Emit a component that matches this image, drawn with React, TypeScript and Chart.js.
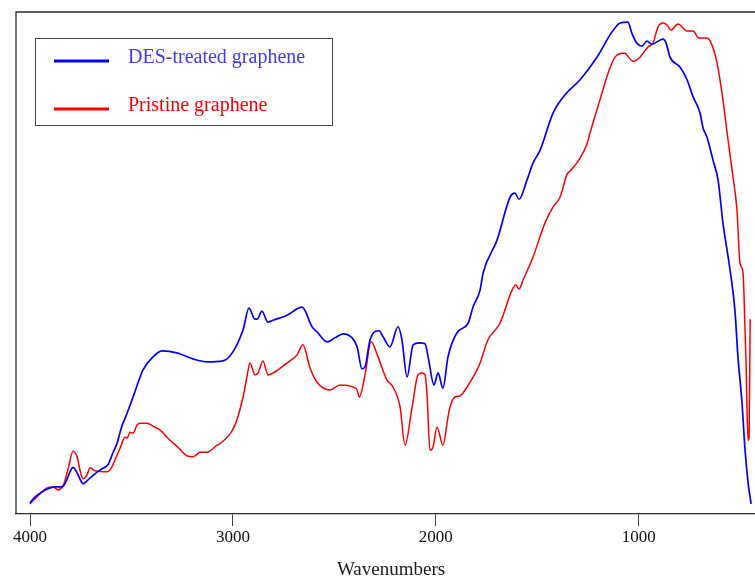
import { useEffect, useRef } from "react";
import { Chart, registerables } from "chart.js";

Chart.register(...registerables);

// FTIR transmittance spectra (arbitrary units, 0–100), wavenumber in cm⁻¹
const desWavenumbers = [
  4000, 3975, 3941, 3901, 3877, 3842, 3823, 3803, 3788, 3768, 3744, 3739, 3714, 3680,
  3645, 3616, 3591, 3571, 3556, 3542, 3532, 3492, 3443, 3394, 3349, 3276, 3197,
  3123, 3049, 3000, 2950, 2921, 2891, 2881, 2857, 2827, 2802, 2733, 2659, 2610, 2586,
  2536, 2497, 2457, 2413, 2388, 2364, 2349, 2324, 2280, 2260, 2226, 2186, 2167, 2142,
  2112, 2083, 2053, 2038, 2009, 1989, 1965, 1940, 1896, 1841, 1817, 1782, 1767, 1698,
  1634, 1610, 1590, 1551, 1521, 1486, 1422, 1363, 1289, 1206, 1132, 1092, 1053, 1034,
  1009, 984, 960, 935, 880, 865, 846, 796, 762, 732, 698, 683, 664, 634, 609, 585, 550,
  526, 511, 491, 476, 461, 446,
];
const desTransmittance = [
  2.2, 3.4, 4.4, 5.2, 5.4, 5.4, 6.4, 8.4, 9.3, 8.2, 6.2, 6.0, 6.8, 8.0,
  9.0, 9.8, 12.2, 14.1, 16.3, 18.1, 19.0, 23.3, 28.7, 31.3, 32.5, 32.1, 30.9,
  30.3, 30.5, 32.3, 36.7, 41.0, 38.8, 38.8, 40.4, 38.2, 38.6, 39.6, 41.2, 37.3, 36.3,
  34.3, 35.1, 35.9, 35.1, 33.3, 28.9, 29.3, 34.7, 36.5, 35.3, 33.3, 37.3, 34.7, 27.3,
  33.7, 34.1, 33.9, 31.3, 25.7, 28.1, 25.1, 31.3, 36.1, 38.0, 41.2, 44.6, 48.0, 54.6,
  63.1, 63.9, 62.7, 66.5, 69.9, 72.5, 79.9, 83.5, 86.5, 91.0, 96.0, 97.8, 98.0, 95.8,
  93.8, 93.2, 94.2, 93.6, 94.6, 93.8, 91.0, 89.0, 86.5, 83.1, 79.9, 76.9, 75.1, 70.5,
  66.5, 58.0, 48.6, 40.6, 31.3, 22.1, 12.7, 6.2, 2.0,
];

const pristineWavenumbers = [
  4000, 3966, 3916, 3887, 3862, 3837, 3813, 3788, 3768, 3754, 3739, 3719, 3704, 3680,
  3621, 3596, 3581, 3556, 3532, 3522, 3507, 3492, 3473, 3458, 3423, 3394, 3359, 3310,
  3276, 3226, 3197, 3177, 3162, 3128, 3078, 3064, 2990, 2950, 2931, 2916, 2891, 2876,
  2852, 2827, 2802, 2733, 2684, 2655, 2620, 2586, 2521, 2472, 2408, 2388, 2377, 2349,
  2319, 2285, 2241, 2211, 2176, 2152, 2117, 2088, 2068, 2053, 2043, 2029, 2014, 1994,
  1965, 1940, 1930, 1905, 1881, 1866, 1846, 1797, 1782, 1743, 1684, 1624, 1605, 1590,
  1570, 1521, 1462, 1422, 1388, 1353, 1339, 1289, 1255, 1240, 1191, 1151, 1117, 1077,
  1068, 1058, 1028, 994, 955, 930, 905, 880, 860, 841, 806, 762, 732, 703, 664, 639,
  614, 585, 565, 540, 516, 501, 486, 476, 471, 466, 461, 456, 451,
];
const pristineTransmittance = [
  2.0, 3.4, 5.2, 5.4, 4.8, 5.6, 8.8, 12.5, 11.4, 8.8, 7.0, 7.8, 9.2, 8.6,
  8.4, 9.4, 10.8, 13.1, 15.3, 15.1, 16.3, 16.1, 17.7, 18.1, 18.1, 17.5, 16.7, 14.7,
  13.5, 11.6, 11.4, 11.9, 12.3, 12.3, 13.7, 14.0, 17.7, 23.3, 27.3, 30.1, 27.7, 28.1,
  30.5, 27.7, 28.1, 30.1, 31.7, 33.7, 29.1, 26.3, 24.7, 25.7, 25.3, 24.7, 23.3, 27.7,
  34.3, 31.3, 26.7, 25.3, 21.3, 13.7, 21.3, 27.7, 28.1, 27.7, 23.5, 12.7, 13.3, 17.3,
  13.7, 19.3, 21.3, 23.3, 23.5, 24.1, 25.3, 28.7, 30.1, 34.7, 38.0, 44.6, 45.6, 44.8,
  46.6, 51.2, 58.0, 61.2, 63.1, 67.7, 68.3, 70.9, 73.7, 75.9, 82.5, 87.8, 91.0, 91.8,
  91.8, 91.4, 90.2, 91.0, 93.0, 93.8, 97.0, 97.8, 97.4, 96.4, 97.6, 96.2, 96.2, 94.8, 94.8, 93.4,
  89.8, 82.5, 76.1, 68.5, 60.6, 50.0, 48.0, 36.7, 30.1, 20.1, 14.7, 15.3, 38.8,
];

const xTickValues = [4000, 3000, 2000, 1000];
const seriesLabels = ["DES-treated graphene", "Pristine graphene"];
const seriesColors = ["#0000ff", "#ff0000"];
const legendTextColors = ["#3c3cff", "#ff0000"];
const axisTitle = "Wavenumbers";

const SERIF = '"Liberation Serif", "Times New Roman", serif';

const toPoints = (xs: number[], ys: number[]) => xs.map((x, i) => ({ x, y: ys[i] }));

// Left and top edges of the plot frame (the bottom edge is the x-axis border)
const framePlugin = {
  id: "frame",
  afterDraw(chart: Chart) {
    const { ctx, chartArea } = chart;
    ctx.save();
    ctx.strokeStyle = "#2a2a2a";
    ctx.lineWidth = 1.3;
    ctx.beginPath();
    ctx.moveTo(chartArea.left, chartArea.bottom);
    ctx.lineTo(chartArea.left, chartArea.top);
    ctx.lineTo(chart.width, chartArea.top);
    ctx.stroke();
    ctx.restore();
  },
};

// Boxed legend in the upper-left corner with coloured labels
const boxedLegendPlugin = {
  id: "boxedLegend",
  afterDraw(chart: Chart) {
    const { ctx } = chart;
    const box = { x: 35.5, y: 38.5, w: 297, h: 87 };
    ctx.save();
    ctx.fillStyle = "#ffffff";
    ctx.fillRect(box.x, box.y, box.w, box.h);
    ctx.strokeStyle = "#444444";
    ctx.lineWidth = 1;
    ctx.strokeRect(box.x, box.y, box.w, box.h);
    const rows = [61, 109];
    chart.data.datasets.forEach((ds, i) => {
      const y = rows[i];
      ctx.strokeStyle = seriesColors[i];
      ctx.lineWidth = 3;
      ctx.beginPath();
      ctx.moveTo(54, y);
      ctx.lineTo(109, y);
      ctx.stroke();
      ctx.fillStyle = legendTextColors[i];
      ctx.font = `20px ${SERIF}`;
      ctx.textBaseline = "alphabetic";
      ctx.textAlign = "left";
      ctx.fillText(String(ds.label), 128, y + 2);
    });
    ctx.restore();
  },
};

// Axis caption below the tick labels
const axisTitlePlugin = {
  id: "axisTitle",
  afterDraw(chart: Chart) {
    const { ctx } = chart;
    ctx.save();
    ctx.fillStyle = "#1a1a1a";
    ctx.font = `19px ${SERIF}`;
    ctx.textAlign = "center";
    ctx.textBaseline = "alphabetic";
    ctx.fillText(axisTitle, 391, 575);
    ctx.restore();
  },
};

export default function App() {
  const canvasRef = useRef<HTMLCanvasElement | null>(null);

  useEffect(() => {
    const canvas = canvasRef.current;
    if (!canvas) return;
    const chart = new Chart(canvas, {
      type: "line",
      data: {
        datasets: [
          {
            label: seriesLabels[0],
            data: toPoints(desWavenumbers, desTransmittance),
            borderColor: seriesColors[0],
            borderWidth: 1.7,
            pointRadius: 0,
            cubicInterpolationMode: "monotone",
            fill: false,
          },
          {
            label: seriesLabels[1],
            data: toPoints(pristineWavenumbers, pristineTransmittance),
            borderColor: seriesColors[1],
            borderWidth: 1.5,
            pointRadius: 0,
            cubicInterpolationMode: "monotone",
            fill: false,
          },
        ],
      },
      options: {
        responsive: false,
        animation: false,
        devicePixelRatio: 1,
        layout: { padding: { left: 16, top: 12, right: 0, bottom: 0 } },
        plugins: {
          legend: { display: false },
          tooltip: { enabled: false },
        },
        scales: {
          x: {
            type: "linear",
            reverse: true,
            min: 427,
            max: 4069,
            afterBuildTicks: (scale: any) => {
              scale.ticks = xTickValues.map((value) => ({ value }));
            },
            afterFit: (scale: any) => {
              scale.height = 63;
              scale.paddingLeft = 0;
              scale.paddingRight = 0;
            },
            grid: {
              drawOnChartArea: false,
              drawTicks: true,
              tickLength: 12,
              color: "#444444",
              lineWidth: 1,
            },
            border: { display: true, color: "#2a2a2a", width: 1.3 },
            ticks: {
              color: "#111111",
              font: { family: SERIF, size: 17 },
              padding: 1,
              maxRotation: 0,
              autoSkip: false,
              callback: (v: any) => String(v),
            },
          },
          y: { display: false, min: 0, max: 100 },
        },
      },
      plugins: [framePlugin, boxedLegendPlugin, axisTitlePlugin],
    });
    return () => chart.destroy();
  }, []);

  return (
    <div style={{ position: "absolute", left: 0, top: 0, width: 755, height: 577, background: "#fff" }}>
      <canvas ref={canvasRef} width={755} height={577} style={{ display: "block" }} />
    </div>
  );
}
